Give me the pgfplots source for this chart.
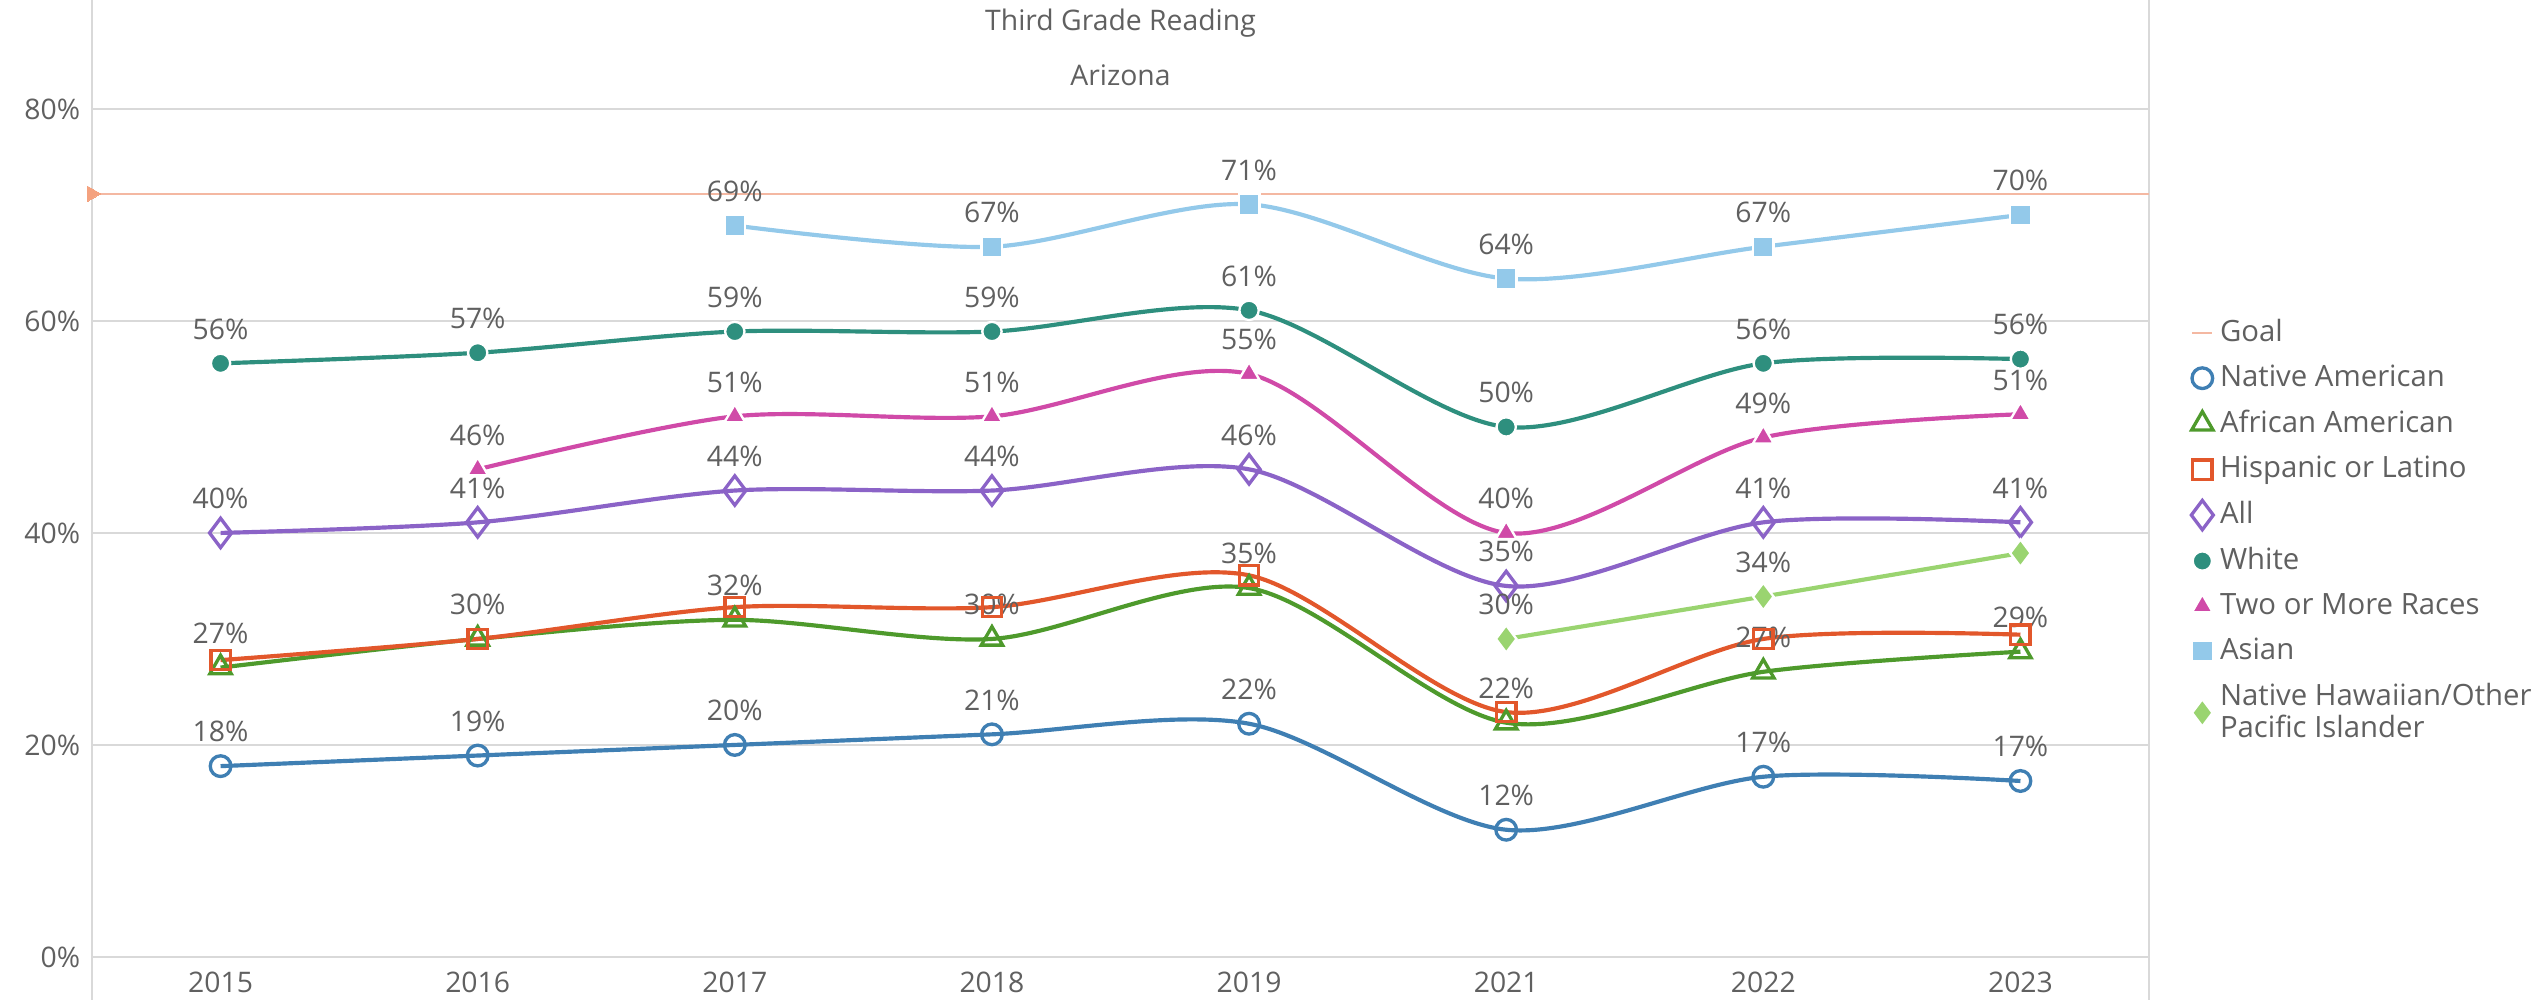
\documentclass[border=0pt]{standalone}
\usepackage{fontspec}
\setmainfont{Open Sans}
\usepackage{pgfplots}
\pgfplotsset{compat=1.18}

\definecolor{txt}{HTML}{606060}
\definecolor{gridc}{HTML}{D9D9D9}
\definecolor{goalc}{HTML}{F4B8A2}
\definecolor{goalm}{HTML}{F4A27F}
\definecolor{natam}{HTML}{3F7FB3}
\definecolor{afram}{HTML}{4E9A2C}
\definecolor{hisp}{HTML}{E2572B}
\definecolor{allc}{HTML}{8B63C7}
\definecolor{whitec}{HTML}{2E8F7E}
\definecolor{twom}{HTML}{D04AA8}
\definecolor{asian}{HTML}{93C9EA}
\definecolor{nhopi}{HTML}{9AD470}

\newcommand{\lblfont}{\fontsize{8.5}{10}\selectfont}

\pgfplotsset{
  lab/.style={
    nodes near coords={\pgfmathprintnumber[fixed,precision=0]{\pgfplotspointmeta}\%},
    every node near coord/.append style={font=\lblfont, text=txt, anchor=center, yshift=10.3pt},
  },
  openmark/.style={mark options={fill=white, line width=1pt, solid}},
  fillmark/.style={mark options={fill=#1, draw=white, line width=0.7pt, solid}},
}

\begin{document}
\begin{tikzpicture}
\begin{axis}[
  name=ax,
  scale only axis,
  width=617.1pt, height=300pt,
  xmin=-0.5, xmax=7.5,
  ymin=-4.06, ymax=90.28,
  xtick={0,...,7},
  xticklabels={2015,2016,2017,2018,2019,2021,2022,2023},
  ytick={0,20,40,60,80},
  yticklabel={\pgfmathprintnumber{\tick}\%},
  /pgf/number format/assume math mode=true,
  ymajorgrids,
  grid style={gridc, line width=0.6pt},
  separate axis lines,
  x axis line style={draw=none},
  y axis line style={gridc, line width=0.6pt},
  major tick length=0pt,
  tick label style={font=\lblfont, text=txt},
  xticklabel style={anchor=center, yshift=5.4pt},
  clip=false,
  legend style={at={(axis description cs:1,1)}, anchor=north west,
    xshift=12.5pt, yshift=-93.5pt, draw=none, fill=none, inner sep=0pt,
    font=\fontsize{8.8}{9.6}\selectfont, text=txt, row sep=1.6pt,
    cells={anchor=west, align=left}},
  legend cell align=left,
  legend image code/.code={\draw[#1] plot[only marks] coordinates {(0pt,0pt)};},
]

\node[font=\lblfont, text=txt] at (axis description cs:0.5,0.977) {Third Grade Reading};
\node[font=\lblfont, text=txt] at (axis description cs:0.5,0.925) {Arizona};

% Goal
\addplot[goalc, line width=0.6pt, mark=triangle*, mark indices={1},
  mark options={rotate=-90, fill=goalm, draw=goalm, line width=0pt}, mark size=2.6pt,
  legend image code/.code={\draw[goalc, line width=0.6pt] (-3pt,0pt) -- (3pt,0pt);}]
  coordinates {(-0.5,72) (7.5,72)};

% Native American
\addplot[natam, line width=1.25pt, smooth, mark=o, mark size=3.1pt, openmark, lab]
  coordinates {(0,18) (1,19) (2,20) (3,21) (4,22) (5,12) (6,17) (7,16.6)};

% African American
\addplot[afram, line width=1.25pt, smooth, mark=triangle, mark size=3.7pt, openmark, lab]
  coordinates {(0,27.3) (1,30) (2,31.8) (3,30) (4,34.8) (5,22.1) (6,26.9) (7,28.8)};

% Hispanic or Latino
\addplot[hisp, line width=1.25pt, smooth, mark=square, mark size=2.9pt, openmark]
  coordinates {(0,28) (1,30) (2,33) (3,33) (4,36) (5,23.1) (6,30) (7,30.4)};

% All
\addplot[allc, line width=1.25pt, smooth, mark=diamond, mark size=4.4pt, openmark, lab]
  coordinates {(0,40) (1,41) (2,44) (3,44) (4,46) (5,35) (6,41) (7,41)};

% White
\addplot[whitec, line width=1.25pt, smooth, mark=*, mark size=2.9pt, fillmark=whitec, lab]
  coordinates {(0,56) (1,57) (2,59) (3,59) (4,61) (5,50) (6,56) (7,56.4)};

% Two or More Races
\addplot[twom, line width=1.25pt, smooth, mark=triangle*, mark size=3.6pt, fillmark=twom, lab]
  coordinates {(1,46) (2,51) (3,51) (4,55) (5,40) (6,49) (7,51.2)};

% Asian
\addplot[asian, line width=1.25pt, smooth, mark=square*, mark size=3.1pt, fillmark=asian, lab]
  coordinates {(2,69) (3,67) (4,71) (5,64) (6,67) (7,70)};

% Native Hawaiian/Other Pacific Islander
\addplot[nhopi, line width=1.25pt, smooth, mark=diamond*, mark size=4.1pt, fillmark=nhopi,
  point meta=explicit symbolic, nodes near coords={\pgfplotspointmeta},
  every node near coord/.append style={font=\lblfont, text=txt, anchor=center, yshift=10.3pt}]
  coordinates {(5,30) [30\%] (6,34) [34\%] (7,38.1) []};

\legend{Goal, Native American, African American, Hispanic or Latino, All, White,
  Two or More Races, Asian, {Native Hawaiian/Other\\Pacific Islander}}
\end{axis}
\pgfresetboundingbox
\path ([xshift=-27.6pt]ax.south west) rectangle ([xshift=116.4pt]ax.north east);
\end{tikzpicture}
\end{document}
